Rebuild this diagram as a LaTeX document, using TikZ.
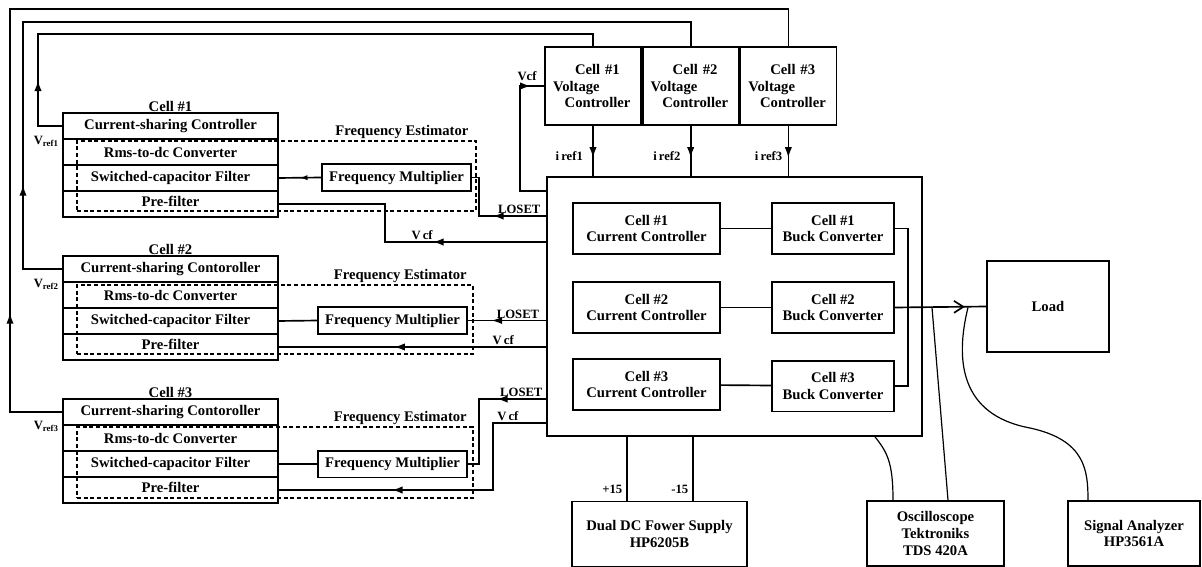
\documentclass[tikz,border=0pt]{standalone}
\usepackage{fontspec}
\setmainfont{Liberation Serif}
\usetikzlibrary{arrows.meta,positioning,decorations.markings}
\newcommand{\boxfont}{\fontsize{11}{12.5}\selectfont\bfseries}
\newcommand{\smlfont}{\fontsize{9.5}{10}\selectfont\bfseries}

\begin{document}
\begin{tikzpicture}[
  x=0.75pt, y=-0.75pt,
  >=Latex,
  blk/.style={draw, line width=1.25pt, align=center, inner sep=2pt, font=\boxfont},
  rowbox/.style={blk, minimum width=161.25pt, minimum height=19.5pt, inner sep=0pt,
                 outer sep=0pt},
  prebox/.style={rowbox, text height=7.5pt, text depth=4pt},
  multbox/.style={blk, minimum width=112pt, minimum height=20pt, inner sep=0pt},
  estbox/.style={draw, line width=1pt, dash pattern=on 3pt off 2pt, inner sep=0pt},
  vcbox/.style={blk, minimum width=72pt, minimum height=58.5pt, text width=60pt,
                align=left, inner xsep=6pt},
  ccbox/.style={blk, minimum width=110pt, minimum height=38pt},
  bcbox/.style={blk, minimum width=91.5pt, minimum height=38pt},
  instbox/.style={blk, minimum height=49pt},
  lbl/.style={font=\boxfont, inner sep=1pt},
  smlbl/.style={font=\smlfont, inner sep=1pt},
  conn/.style={line width=1.25pt},
  probe/.style={line width=0.9pt},
  arrowat/.style={postaction={decorate}, decoration={markings,
      mark=at position #1 with {\arrow{Latex[length=8pt,width=5.5pt]}}}},
  openat/.style={postaction={decorate}, decoration={markings,
      mark=at position #1 with {\arrow{Latex[open,length=6pt,width=4pt]}}}},
  barbat/.style={postaction={decorate}, decoration={markings,
      mark=at position #1 with {\arrow{Straight Barb[length=7pt,width=9pt]}}}}
]
  \useasboundingbox (0,0) rectangle (1202,567);

  % frequency estimators (dashed)
  \node[estbox, minimum width=299.25pt, minimum height=52.5pt] (est1) at (276.5,176) {};
  \node[estbox, minimum width=297pt, minimum height=51.75pt] (est2) at (275,319.5) {};
  \node[estbox, minimum width=297pt, minimum height=53.25pt] (est3) at (275,462.5) {};
  \node[lbl, anchor=south east] (est1lbl) at ([xshift=-5pt]est1.north east) {Frequency Estimator};
  \node[lbl, anchor=south east] (est2lbl) at ([xshift=-4pt]est2.north east) {Frequency Estimator};
  \node[lbl, anchor=south east] (est3lbl) at ([xshift=-4pt]est3.north east) {Frequency Estimator};

  % cell #1
  \node[rowbox] (csc1) at (170.5,126) {Current-sharing Controller};
  \node[rowbox, below=0pt of csc1] (rms1) {Rms-to-dc Converter};
  \node[rowbox, below=0pt of rms1] (scf1) {Switched-capacitor Filter};
  \node[prebox, below=0pt of scf1] (pre1) {Pre-filter};
  \node[lbl, above=0pt of csc1] (cell1lbl) {Cell \#1};
  \node[multbox] (fm1) at (396.5,177.5) {Frequency Multiplier};

  % cell #2
  \node[rowbox] (csc2) at (170.5,269) {Current-sharing Contoroller};
  \node[rowbox, below=0pt of csc2] (rms2) {Rms-to-dc Converter};
  \node[rowbox, below=0pt of rms2] (scf2) {Switched-capacitor Filter};
  \node[prebox, below=0pt of scf2] (pre2) {Pre-filter};
  \node[lbl, above=0pt of csc2] (cell2lbl) {Cell \#2};
  \node[multbox] (fm2) at (392.5,320.5) {Frequency Multiplier};

  % cell #3
  \node[rowbox] (csc3) at (170.5,412) {Current-sharing Contoroller};
  \node[rowbox, below=0pt of csc3] (rms3) {Rms-to-dc Converter};
  \node[rowbox, below=0pt of rms3] (scf3) {Switched-capacitor Filter};
  \node[prebox, below=0pt of scf3] (pre3) {Pre-filter};
  \node[lbl, above=0pt of csc3] (cell3lbl) {Cell \#3};
  \node[multbox] (fm3) at (392.5,464) {Frequency Multiplier};

  \node[smlbl, anchor=east] (vref1) at ([xshift=-2pt,yshift=-2pt]rms1.north west) {V\textsubscript{ref1}};
  \node[smlbl, anchor=east] (vref2) at ([xshift=-2pt,yshift=-2pt]rms2.north west) {V\textsubscript{ref2}};
  \node[smlbl, anchor=east] (vref3) at ([xshift=-2pt,yshift=-1pt]rms3.north west) {V\textsubscript{ref3}};

  % voltage controllers
  \node[vcbox] (vc1) at (593,86) {\hspace*{1.5em}Cell \#1\\Voltage\\\hspace*{0.8em}Controller};
  \node[vcbox, right=0pt of vc1] (vc2) {\hspace*{1.5em}Cell \#2\\Voltage\\\hspace*{0.8em}Controller};
  \node[vcbox, right=0pt of vc2] (vc3) {\hspace*{1.5em}Cell \#3\\Voltage\\\hspace*{0.8em}Controller};

  % power stage
  \node[blk, minimum width=281.25pt, minimum height=194.25pt] (board) at (734.5,306.5) {};
  \node[ccbox] (cc1) at (646.5,228.5) {Cell \#1\\Current Controller};
  \node[ccbox] (cc2) at (646.5,307.5) {Cell \#2\\Current Controller};
  \node[ccbox] (cc3) at (646.5,384.5) {Cell \#3\\Current Controller};
  \node[bcbox] (bc1) at (833,228.5) {Cell \#1\\Buck Converter};
  \node[bcbox] (bc2) at (833,307.5) {Cell \#2\\Buck Converter};
  \node[bcbox] (bc3) at (833,386) {Cell \#3\\Buck Converter};
  \coordinate (bus) at (908,307);

  \node[blk, minimum width=91.5pt, minimum height=68pt] (load) at (1048,306.5) {Load};
  \node[instbox, minimum width=131pt] (ps) at (659.5,534) {Dual DC Fower Supply\\HP6205B};
  \node[instbox, minimum width=103pt] (osc) at (935.5,533.5) {Oscilloscope\\Tektroniks\\TDS 420A};
  \node[instbox, minimum width=99pt] (sa) at (1134,533.5) {Signal Analyzer\\HP3561A};

  % references to the voltage controllers
  \draw[conn, arrowat=53pt] (csc1.west) -| (38,34) -| (vc1.north);
  \draw[conn, arrowat=93pt] (csc2.west) -| (23,22) -| (vc2.north);
  \draw[conn, arrowat=114pt] (csc3.west) -| (10,9) -| (vc3.north);
  \draw[conn, arrowat=-10pt] (board.west |- 0,191) -| (520,86) -- (vc1.west);
  \node[smlbl] (vcftop) at (527,76) {Vcf};

  \draw[conn, arrowat=24pt] (vc1.south) -- node[smlbl, left=6pt, pos=0.6] {i\,ref1} (vc1.south |- board.north);
  \draw[conn, arrowat=24pt] (vc2.south) -- node[smlbl, left=6pt, pos=0.6] {i\,ref2} (vc2.south |- board.north);
  \draw[conn, arrowat=24pt] (vc3.south) -- node[smlbl, left=3pt, pos=0.6] {i\,ref3} (vc3.south |- board.north);

  % loset and vcf to the cells
  \draw[conn, arrowat=40pt] (board.west |- 0,216) -- node[smlbl, above, pos=0.4] {LOSET} (479,216) |- (fm1.east);
  \draw[conn, arrowat=85pt] (board.west |- 0,242) -- node[smlbl, above, pos=0.77] {V\,cf} (385,242) |- (pre1.east);
  \draw[conn, openat=0.5] (fm1.west) -- (scf1.east);

  \draw[conn, arrowat=41pt] (board.west |- fm2.east) -- node[smlbl, above, pos=0.36] {LOSET} (fm2.east);
  \draw[conn, arrowat=114pt] (board.west |- pre2.east) -- node[smlbl, above, pos=0.16] {V\,cf} (pre2.east);
  \draw[conn] (fm2.west) -- (scf2.east);

  \draw[conn, arrowat=37pt] (board.west |- 0,399) -- node[smlbl, above, pos=0.37] {LOSET} (479,399) |- (fm3.east);
  \draw[conn, arrowat=166pt] (board.west |- 0,423) -- node[smlbl, above, pos=0.72] {V\,cf} (493,423) |- (pre3.east);
  \draw[conn] (fm3.west) -- (scf3.east);

  % power stage wiring
  \draw[conn] (cc1) -- (bc1);
  \draw[conn] (cc2) -- (bc2);
  \draw[conn] (cc3) -- (bc3);
  \draw[conn] (bc1.east) -| (bus) |- (bc3.east);
  \draw[conn, barbat=-16pt] (bc2.east) -- (load.west);

  \draw[conn] (board.south -| 627,0) -- node[smlbl, left=2pt, pos=0.83] {+15} (ps.north -| 627,0);
  \draw[conn] (board.south -| 693,0) -- node[smlbl, left=2pt, pos=0.83] {-15} (ps.north -| 693,0);

  % probes
  \draw[probe] (bc2.east -| 932,0) -- (osc.north -| 948,0);
  \draw[probe] (board.south -| 875,0) .. controls (887,452) and (893,462) .. (osc.north -| 893,0);
  \draw[probe] (bc2.east -| 968,0) .. controls (955,360) and (960,415) .. (1030,428)
    .. controls (1085,440) and (1088,470) .. (sa.north -| 1088,0);
\end{tikzpicture}
\end{document}
